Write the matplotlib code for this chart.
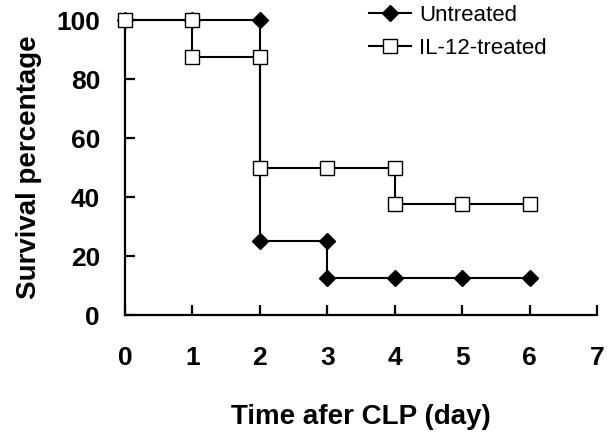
import matplotlib
matplotlib.use("Agg")
import matplotlib.pyplot as plt

plt.rcParams['font.family'] = ['Liberation Sans', 'DejaVu Sans']

# Data
untreated_days = [0, 1, 2, 2, 3, 3, 4, 5, 6]
untreated_surv = [100, 100, 100, 25, 25, 12.5, 12.5, 12.5, 12.5]
il12_days = [0, 1, 1, 2, 2, 3, 4, 4, 5, 6]
il12_surv = [100, 100, 87.5, 87.5, 50, 50, 50, 37.5, 37.5, 37.5]
x_ticks = [0, 1, 2, 3, 4, 5, 6, 7]
y_ticks = [0, 20, 40, 60, 80, 100]

fig = plt.figure(figsize=(6.09, 4.38), dpi=100)
ax = fig.add_axes([0.2053, 0.2808, 0.7750, 0.6735])

ax.plot(untreated_days, untreated_surv, color='black', lw=1.5, marker='D',
        markersize=8, markerfacecolor='black', markeredgecolor='black',
        clip_on=False, zorder=3, label='Untreated')
ax.plot(il12_days, il12_surv, color='black', lw=1.5, marker='s',
        markersize=10, markerfacecolor='white', markeredgecolor='black',
        markeredgewidth=1.0, clip_on=False, zorder=4, label='IL-12-treated')

ax.set_xlim(0, 7)
ax.set_ylim(0, 100)
ax.set_xticks(x_ticks)
ax.set_yticks(y_ticks)
ax.spines['top'].set_visible(False)
ax.spines['right'].set_visible(False)
for s in ['left', 'bottom']:
    ax.spines[s].set_linewidth(1.6)
ax.tick_params(axis='both', direction='in', length=7, width=1.6)
ax.tick_params(axis='x', pad=22)
ax.tick_params(axis='y', pad=18)
for lab in ax.get_xticklabels() + ax.get_yticklabels():
    lab.set_fontsize(19)
    lab.set_fontweight('bold')

ax.set_xlabel('Time afer CLP (day)', fontsize=20, fontweight='bold', labelpad=25)
ax.set_ylabel('Survival percentage', fontsize=20, fontweight='bold', labelpad=10)

leg = fig.legend(loc='upper left', bbox_to_anchor=(0.606, 0.989), frameon=False,
                 fontsize=16, handlelength=1.9, handletextpad=0.35,
                 labelspacing=0.55, borderpad=0.0, borderaxespad=0.0)

fig.savefig('out.png', dpi=100)
